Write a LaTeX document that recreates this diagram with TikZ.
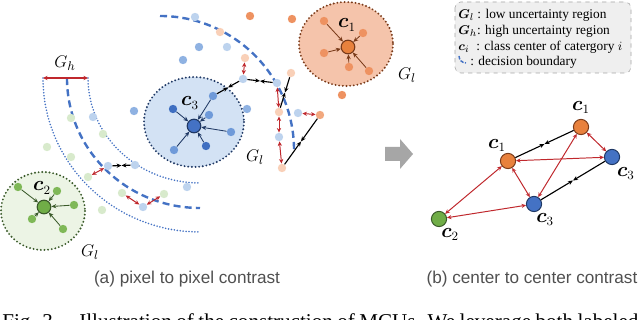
\documentclass[tikz,border=0pt]{standalone}
\usepackage{amsmath}
\usepackage{xcolor}
\usepackage{fontspec}
\setmainfont{Liberation Serif}
\newfontfamily\capsans{Liberation Sans}
\usetikzlibrary{arrows.meta, shapes.geometric, positioning, calc}

\definecolor{bluedark}{HTML}{1F3864}
\definecolor{bluemid}{HTML}{4472C4}
\definecolor{bluedeep}{HTML}{3F6FC1}
\definecolor{bluept}{HTML}{6F9AD9}
\definecolor{bluesoft}{HTML}{8FB2E2}
\definecolor{bluelight}{HTML}{BDD3EE}
\definecolor{bluearea}{HTML}{D3E2F4}
\definecolor{orgdark}{HTML}{7A3B1A}
\definecolor{orgmid}{HTML}{E8813D}
\definecolor{orgpt}{HTML}{EE9261}
\definecolor{orgsoft}{HTML}{F2A87E}
\definecolor{orglight}{HTML}{F9D0B8}
\definecolor{orgarea}{HTML}{F5C4AB}
\definecolor{grndark}{HTML}{3A5A2A}
\definecolor{grnmid}{HTML}{70AD47}
\definecolor{grnpt}{HTML}{7FB857}
\definecolor{grnlight}{HTML}{D8EACC}
\definecolor{grnarea}{HTML}{ECF4E5}
\definecolor{repel}{HTML}{C0282D}
\definecolor{boxgray}{HTML}{EFEFEF}
\definecolor{arrowgray}{HTML}{A6A6A6}
\definecolor{capgray}{HTML}{505050}

\tikzset{
  pt/.style={circle, inner sep=0pt, minimum size=2.1mm, fill=#1},
  ctrnode/.style args={#1/#2}{circle, inner sep=0pt, minimum size=3.4mm,
    fill=#1, draw=#2, line width=0.8pt},
  bignode/.style args={#1/#2}{circle, inner sep=0pt, minimum size=3.8mm,
    fill=#1, draw=#2, line width=0.7pt},
  region/.style={draw=#1, line width=1.5pt, line cap=round, dash pattern=on 0pt off 2.6pt},
  bound/.style={bluemid, line width=1.7pt, dash pattern=on 5pt off 3pt},
  hedge/.style={bluemid, line width=1.25pt, line cap=round, dash pattern=on 0pt off 2.1pt},
  pull/.style={-{Stealth[length=3.5pt,width=3pt]}, line width=0.6pt},
  pullblk/.style={-{Stealth[length=3.5pt,width=3pt]}, line width=0.8pt, black},
  push/.style={{Stealth[length=3.2pt,width=3pt]}-{Stealth[length=3.2pt,width=3pt]},
    repel, line width=0.7pt},
  clbl/.style={font=\fontsize{13.5}{14}\selectfont},
  glbl/.style={font=\fontsize{13}{14}\selectfont},
}
\newcommand{\attract}[2]{%
  \draw[pullblk] (#1) -- ($(#1)!0.5!(#2)$);
  \draw[pullblk] (#2) -- ($(#1)!0.5!(#2)$);}

\begin{document}
\begin{tikzpicture}[x=0.025cm, y=-0.025cm, font=\small]
  \useasboundingbox (0,0) rectangle (640,320);
  \clip (0,0) rectangle (640,320);
  \fill[white] (0,0) rectangle (640,320);

  % low uncertainty regions
  \filldraw[region=bluedark, fill=bluearea] (194,122) ellipse[x radius=50, y radius=45];
  \filldraw[region=orgdark, fill=orgarea] (346,44) ellipse[x radius=47, y radius=42];
  \filldraw[region=grndark, fill=grnarea] (43,211) ellipse[x radius=42, y radius=39];

  % decision boundaries
  \draw[bound] (160,16) arc[start angle=270, end angle=360, radius=134];
  \draw[hedge] (43,78) arc[start angle=180, end angle=90, x radius=157, y radius=154];
  \draw[bound] (67,78) arc[start angle=180, end angle=90, x radius=133, y radius=130];
  \draw[hedge] (88,78) arc[start angle=180, end angle=90, x radius=112, y radius=105];

  % pixels
  \foreach \n/\x/\y/\c in {b1/173/109/bluedeep, b2/213/96/bluept, b3/209/115/bluept,
      b4/231/132/bluept, b5/206/146/bluedeep, b6/174/150/bluept,
      bs1/199/47/bluesoft, bs2/183/60/bluesoft, bs3/134/111/bluesoft, bs4/247/109/bluesoft,
      bl1/195/17/bluelight, bl2/227/47/bluelight, lb1/243/79/bluelight, lb2/277/83/bluelight,
      lb3/279/137/bluelight, lb4/298/113/bluelight, bl3/93/117/bluelight,
      lb5/108/166/bluelight, lb6/135/165/bluelight, lb7/143/207/bluelight, bl4/187/187/bluelight,
      o1/324/21/orgpt, o2/363/33/orgpt, o3/324/53/orgpt, o4/349/67/orgpt, o5/369/71/orgpt,
      op1/250/16/orgpt, op2/292/19/orgpt, op3/342/95/orgpt, ob1/320/115/orgsoft,
      ol1/220/32/orglight, lo1/245/58/orglight, lo2/291/73/orglight,
      lo3/279/112/orglight, lo4/282/168/orglight,
      g1/18/187/grnpt, g2/57/191/grnpt, g3/74/205/grnpt, g4/32/219/grnpt, g5/63/229/grnpt,
      gl1/71/118/grnlight, gl2/103/134/grnlight, gl3/47/147/grnlight, gl4/71/157/grnlight,
      lg1/88/177/grnlight, lg2/122/193/grnlight, lg3/164/194/grnlight, gl5/102/210/grnlight}
    \node[pt=\c] (\n) at (\x,\y) {};

  % class centers
  \node[ctrnode=bluemid/bluedark] (c3) at (194,126) {};
  \node[ctrnode=orgmid/orgdark] (c1) at (348,47) {};
  \node[ctrnode=grnmid/grndark] (c2) at (44,207) {};
  \foreach \p in {b1,b2,b3,b4,b5,b6} \draw[pull, bluedark] (\p) -- (c3);
  \foreach \p in {o1,o2,o3,o4,o5} \draw[pull, orgdark] (\p) -- (c1);
  \foreach \p in {g1,g2,g3,g4,g5} \draw[pull, grndark] (\p) -- (c2);

  \node[clbl] (c3-lbl) at (190,103) {$\boldsymbol{c}_3$};
  \node[clbl] (c1-lbl) at (347,25) {$\boldsymbol{c}_1$};
  \node[clbl] (c2-lbl) at (42,188) {$\boldsymbol{c}_2$};

  % pixel to pixel pairs
  \attract{b2}{lb1}
  \attract{lb1}{lb2}
  \attract{lo2}{lo3}
  \attract{lo4}{ob1}
  \attract{lb5}{lb6}
  \draw[push] (lo1) -- (lb1);
  \draw[push] (lb2) -- (lo3);
  \draw[push] (lo3) -- (lb3);
  \draw[push] (lb3) -- (lo4);
  \draw[push] (lb4) -- (ob1);
  \draw[push] (lb5) -- (lg1);
  \draw[push] (lg2) -- (lb7);
  \draw[push] (lb7) -- (lg3);

  % region labels
  \coordinate (gh-l) at (43,78);
  \coordinate (gh-r) at (88,78);
  \draw[push, line width=1.1pt] (gh-l) -- (gh-r);
  \node[glbl] (gh-lbl) at (65,63) {$G_h$};
  \node[glbl] (gl-blue) at (255,157) {$G_l$};
  \node[glbl] (gl-org) at (407,75) {$G_l$};
  \node[glbl] (gl-grn) at (90,252) {$G_l$};

  % legend
  \draw[gray!70, dashed, fill=boxgray, rounded corners=4pt] (455,2) rectangle (631,73);
  \begin{scope}[font=\fontsize{9.5}{11}\selectfont]
    \node[anchor=west, inner sep=0pt] (leg1) at (458,15) {$\boldsymbol{G}_l$ : low uncertainty region};
    \node[anchor=west, inner sep=0pt] (leg2) at (458,31) {$\boldsymbol{G}_h$: high uncertainty region};
    \node[anchor=west, inner sep=0pt] (leg3) at (458,47) {$\boldsymbol{c}_i$\enspace: class center of catergory $i$};
    \node[anchor=west, inner sep=0pt] (leg4) at (470,62) {: decision boundary};
  \end{scope}
  \draw[bluemid, line width=1pt, dash pattern=on 2.5pt off 1pt] (459,56) arc[start angle=180, end angle=90, radius=7];

  % step arrow
  \fill[arrowgray] (385,147) -- (400,147) -- (400,139) -- (413,154) -- (400,169) -- (400,161) -- (385,161) -- cycle;

  % center to center contrast
  \node[bignode=orgmid/orgdark] (r-c1a) at (581,127) {};
  \node[bignode=orgmid/orgdark] (r-c1b) at (508,161) {};
  \node[bignode=bluemid/bluedark] (r-c3a) at (612,157) {};
  \node[bignode=bluemid/bluedark] (r-c3b) at (534,204) {};
  \node[bignode=grnmid/grndark] (r-c2) at (439,219) {};
  \node[clbl, above=0pt of r-c1a] (r-c1a-lbl) {$\boldsymbol{c}_1$};
  \node[clbl, above left=-1pt and -6pt of r-c1b] (r-c1b-lbl) {$\boldsymbol{c}_1$};
  \node[clbl, below right=0pt and -4pt of r-c3a] (r-c3a-lbl) {$\boldsymbol{c}_3$};
  \node[clbl, below right=-1pt and -6pt of r-c3b] (r-c3b-lbl) {$\boldsymbol{c}_3$};
  \node[clbl, below right=-1pt and -6pt of r-c2] (r-c2-lbl) {$\boldsymbol{c}_2$};
  \attract{r-c1b}{r-c1a}
  \attract{r-c3b}{r-c3a}
  \draw[push] (r-c1a) -- (r-c3a);
  \draw[push] (r-c1b) -- (r-c3a);
  \draw[push] (r-c1b) -- (r-c3b);
  \draw[push] (r-c1a) -- (r-c3b);
  \draw[push] (r-c2) -- (r-c1b);
  \draw[push] (r-c2) -- (r-c3b);

  % captions
  \node[text=capgray, font=\capsans\fontsize{12.2}{14}\selectfont] (cap-a) at (187,279) {(a) pixel to pixel contrast};
  \node[text=capgray, font=\capsans\fontsize{12.2}{14}\selectfont] (cap-b) at (532,279) {(b) center to center contrast};
  \node[anchor=base west, inner sep=0pt, font=\fontsize{15}{18}\selectfont] (figline) at (2,329)
    {\makebox[15.9cm][s]{Fig. 3.\quad Illustration of the construction of MCUs. We leverage both labeled}};
\end{tikzpicture}
\end{document}
